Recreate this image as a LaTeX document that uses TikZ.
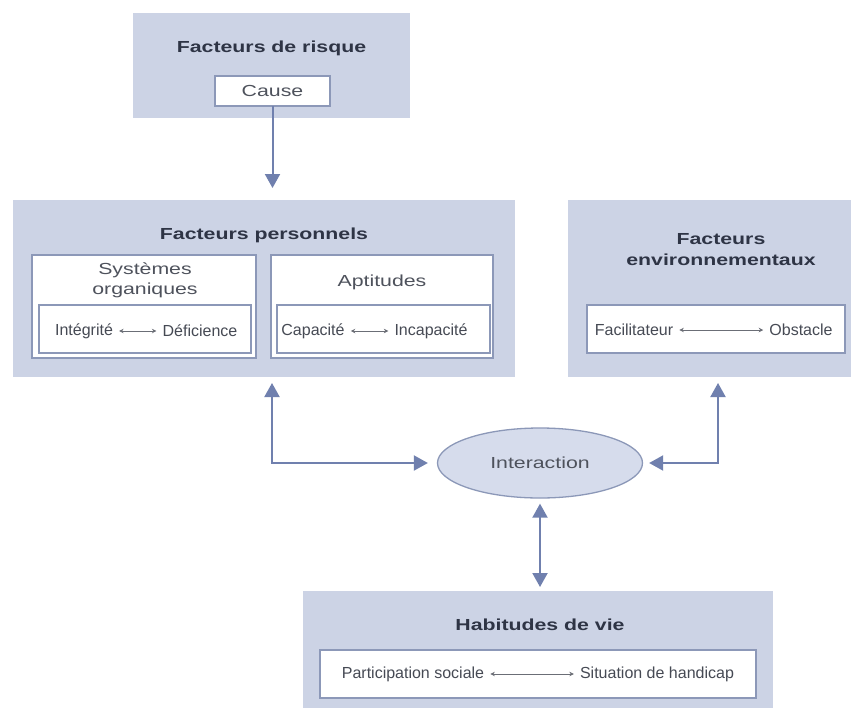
\documentclass[tikz,border=0pt]{standalone}
\usepackage{fontspec}
\setmainfont{Liberation Sans}
\newfontfamily\widefont[FakeStretch=1.33]{Liberation Sans}
\usetikzlibrary{arrows.meta,shapes.geometric}
\definecolor{boxfill}{RGB}{204,211,229}
\definecolor{ellfill}{RGB}{214,220,236}
\definecolor{boxline}{RGB}{140,152,184}
\definecolor{arrowcol}{RGB}{112,128,174}
\definecolor{titlecol}{RGB}{46,52,69}
\definecolor{midcol}{RGB}{78,82,92}
\definecolor{smallcol}{RGB}{70,74,84}
\tikzset{
	outerbox/.style={rectangle, fill=boxfill, inner sep=0pt, outer sep=0pt},
	innerbox/.style={rectangle, draw=boxline, line width=1.3pt, fill=white, inner sep=0pt, outer sep=0pt},
	titletext/.style={font=\widefont\bfseries\fontsize{16}{21}\selectfont, text=titlecol, align=center, inner sep=0pt},
	midtext/.style={font=\widefont\fontsize{16}{20}\selectfont, text=midcol, align=center, inner sep=0pt},
	smalltext/.style={font=\fontsize{16}{18}\selectfont, text=smallcol, inner sep=6pt},
	bigtip/.style={{Triangle[length=14pt,width=15pt]}},
	bigarrow/.style={draw=arrowcol, line width=2pt, -{Triangle[length=14pt,width=15pt]}},
	twoway/.style={bigarrow, {Triangle[length=14pt,width=15pt]}-{Triangle[length=14pt,width=15pt]}},
	smallarrow/.style={draw=smallcol!80, line width=0.9pt, {Stealth[length=4.5pt,width=4.5pt]}-{Stealth[length=4.5pt,width=4.5pt]}}
}

\begin{document}
\begin{tikzpicture}[x=1pt, y=-1pt]
	%%%%% START %%%%%
	\useasboundingbox[fill=white] (0,0) rectangle (853,707);
	
	% facteurs de risque
	\node[outerbox, minimum width=277, minimum height=105] (risque) at (271.5,65.5) {};
	\node[titletext] (risquetitle) at (271.5,48) {Facteurs de risque};
	\node[innerbox, minimum width=115, minimum height=30] (cause) at (272.5,91) {};
	\node[midtext] (causetext) at (cause) {Cause};
	
	% facteurs personnels
	\node[outerbox, minimum width=502, minimum height=177] (perso) at (264,288.5) {};
	\node[titletext] (persotitle) at (264,235) {Facteurs personnels};
	\node[innerbox, minimum width=224, minimum height=103] (sys) at (144,306.5) {};
	\node[midtext] (systext) at (145,280) {Systèmes\\organiques};
	\node[innerbox, minimum width=212, minimum height=48] (sysin) at (145,329) {};
	\node[smalltext] (integ) at (84,331) {Intégrité};
	\node[smalltext] (defic) at (200,331) {Déficience};
	\draw[smallarrow] (integ) -- (defic);
	\node[innerbox, minimum width=222, minimum height=103] (apt) at (382,306.5) {};
	\node[midtext] (apttext) at (382,282) {Aptitudes};
	\node[innerbox, minimum width=213, minimum height=48] (aptin) at (383.5,329) {};
	\node[smalltext] (capa) at (313,331) {Capacité};
	\node[smalltext] (incapa) at (431,331) {Incapacité};
	\draw[smallarrow] (capa) -- (incapa);
	
	% facteurs environnementaux
	\node[outerbox, minimum width=283, minimum height=177] (env) at (709.5,288.5) {};
	\node[titletext] (envtitle) at (721,250) {Facteurs\\environnementaux};
	\node[innerbox, minimum width=258, minimum height=48] (envin) at (716,329) {};
	\node[smalltext] (facil) at (634,330) {Facilitateur};
	\node[smalltext] (obst) at (801,330) {Obstacle};
	\draw[smallarrow] (facil) -- (obst);
	
	% interaction
	\node[ellipse, draw=boxline, line width=1.3pt, fill=ellfill, minimum width=205, minimum height=70, inner sep=0pt] (inter) at (540,463) {};
	\node[midtext] (intertext) at (inter) {Interaction};
	
	% habitudes de vie
	\node[outerbox, minimum width=470, minimum height=119] (habit) at (538,650.5) {};
	\node[titletext] (habittitle) at (540,625) {Habitudes de vie};
	\node[innerbox, minimum width=436, minimum height=48] (habin) at (538,674) {};
	\node[smalltext] (partic) at (413,674) {Participation sociale};
	\node[smalltext] (situ) at (657,674) {Situation de handicap};
	\draw[smallarrow] (partic) -- (situ);
	
	% connecteurs
	\coordinate (lk) at (272,463);
	\coordinate (rk) at (718,463);
	\draw[bigarrow] (cause.south) -- ([yshift=12pt]perso.north -| cause.south);
	\draw[twoway, shorten <=6pt, shorten >=9pt] (perso.south -| lk) -- (lk) -- (inter.west);
	\draw[twoway, shorten <=6pt, shorten >=6pt] (env.south -| rk) -- (rk) -- (inter.east);
	\draw[twoway, shorten <=5pt, shorten >=4pt] (inter.south) -- (habit.north -| inter.south);
	%%%%% END %%%%%
\end{tikzpicture}
\end{document}
